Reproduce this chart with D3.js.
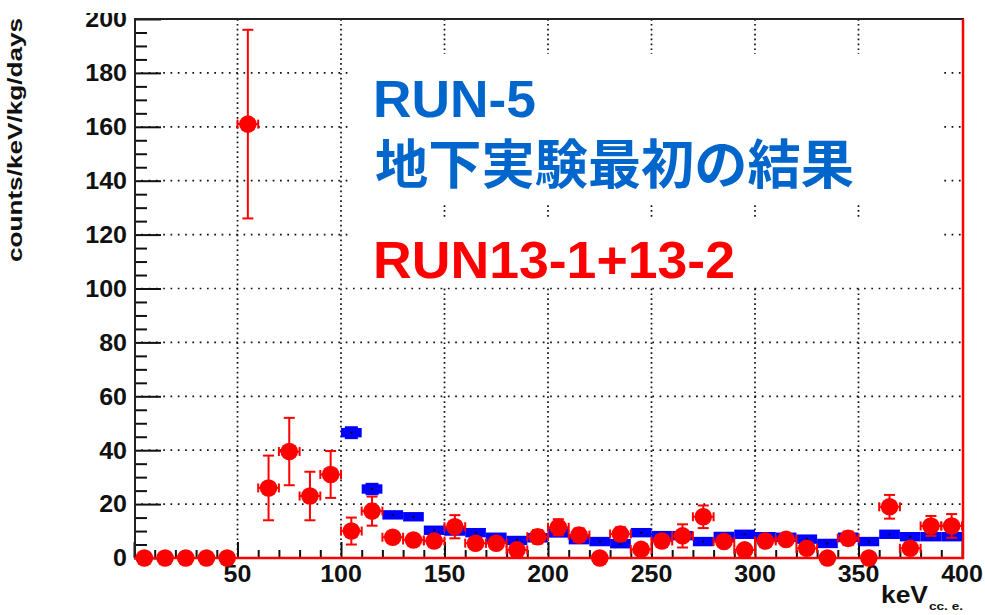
<!DOCTYPE html>
<html>
<head>
<meta charset="utf-8">
<script src="https://cdn.jsdelivr.net/npm/d3@7"></script>
<style>
body{margin:0;background:#fff;}
</style>
</head>
<body>
<div id="chart"></div>
<script>
// RUN13-1+13-2 (red points), 10 keV bins
var redCenters=[5,15,25,35,45,55,65,75,85,95,105,115,125,135,145,155,165,175,185,195,
205,215,225,235,245,255,265,275,285,295,305,315,325,335,345,355,365,375,385,395]
var redValues=[0,0,0,0,0,161,26,39.5,23,31,10,17.4,7.7,6.7,6.3,11.6,5.5,5.5,3,7.9,
11.4,8.5,0,8.9,3.2,6.3,8.2,15.3,6.1,3,6.3,6.9,3.6,0,7.3,0,19,3.6,11.9,11.9]
var redErrors=[0,0,0,0,0,35,12,12.5,9,8.7,5,5.4,2,2,2,4.3,2,2,2,2.5,
3,2.5,0,2.5,2,2,4.3,4.2,2,2,2,2,2,0,2.5,0,4.4,2,3.7,4.4]

// RUN-5 (blue bands), bin low edges
var blueEdges=[100,110,120,130,140,150,160,170,180,190,200,210,220,230,240,250,260,270,280,290,
300,310,320,330,340,350,360,370,380,390]
var blueValues=[46.5,25.6,16,15.3,10.3,10,9.4,7.7,6.5,7.5,9.3,6.8,6.1,5.3,9.4,8.3,8.3,6.1,8,8.8,
7.9,7.7,7,5.4,7.7,6.1,8.8,7.9,7.9,7.9]
var blueErrors=[2.4,2.3,1,1,1,1,1,1,1,1,1,1,1,1,1,1,1,1,1,1,1,1,1,1,1,1,1,1,1,1]
var binWidth=10

var xTicks=[50,100,150,200,250,300,350,400]
var yTicks=[0,20,40,60,80,100,120,140,160,180,200]

var width=985,height=615
var font="'Liberation Sans',Arial,Helvetica,sans-serif"

var x=d3.scaleLinear().domain([0,400]).range([134,962])
var y=d3.scaleLinear().domain([0,200]).range([558,19])

var svg=d3.select("#chart").append("svg")
	.attr("width",width)
	.attr("height",height)
	.style("display","block")

svg.append("rect").attr("width",width).attr("height",height).attr("fill","#fff")

// grid
svg.append("g").selectAll("line")
	.data(yTicks.filter(function(d){return d>0&&d<200}))
	.enter().append("line")
	.attr("x1",x(0)).attr("x2",x(400))
	.attr("y1",function(d){return y(d)}).attr("y2",function(d){return y(d)})
	.attr("stroke","#111").attr("stroke-width",1.7)
	.attr("stroke-dasharray","1.7,5.6")
svg.append("g").selectAll("line")
	.data(xTicks.filter(function(d){return d<400}))
	.enter().append("line")
	.attr("x1",function(d){return x(d)}).attr("x2",function(d){return x(d)})
	.attr("y1",y(200)).attr("y2",y(0))
	.attr("stroke","#111").attr("stroke-width",1.7)
	.attr("stroke-dasharray","1.7,3.2")

// white boxes behind the labels
svg.append("rect").attr("x",352).attr("y",54).attr("width",591).attr("height",151).attr("fill","#fff")
svg.append("rect").attr("x",352).attr("y",220).attr("width",591).attr("height",66).attr("fill","#fff")

// axes
var yAxis=d3.axisRight(y)
	.tickValues(d3.range(0,201,5))
	.tickSize(0)
	.tickFormat("")
var ga=svg.append("g").attr("transform","translate("+x(0)+",0)").call(yAxis)
ga.select(".domain").remove()
ga.selectAll(".tick line")
	.attr("x2",function(d){return d%20==0?27:13})
	.attr("stroke","#111").attr("stroke-width",2)

var xAxis=d3.axisTop(x)
	.tickValues(d3.range(0,401,10))
	.tickSize(0)
	.tickFormat("")
var gx=svg.append("g").attr("transform","translate(0,"+y(0)+")").call(xAxis)
gx.select(".domain").remove()
gx.selectAll(".tick line")
	.attr("y2",function(d){return d%50==0?-16:-8})
	.attr("stroke","#111").attr("stroke-width",2)

// frame
svg.append("rect")
	.attr("x",x(0)+1).attr("y",y(200))
	.attr("width",x(400)-x(0)).attr("height",y(0)-y(200))
	.attr("fill","none").attr("stroke","#222").attr("stroke-width",2)

// tick labels
svg.append("g").selectAll("text")
	.data(yTicks)
	.enter().append("text")
	.attr("x",127)
	.attr("y",function(d){return y(d)+8.3})
	.attr("text-anchor","end")
	.attr("font-family",font).attr("font-weight","bold").attr("font-size","23px")
	.attr("fill","#111")
	.attr("textLength",function(d){return String(d).length*13.9})
	.attr("lengthAdjust","spacingAndGlyphs")
	.text(function(d){return d})
svg.append("g").selectAll("text")
	.data(xTicks)
	.enter().append("text")
	.attr("x",function(d){return x(d)})
	.attr("y",582)
	.attr("text-anchor","middle")
	.attr("font-family",font).attr("font-weight","bold").attr("font-size","23px")
	.attr("fill","#111")
	.attr("textLength",function(d){return String(d).length*13.9})
	.attr("lengthAdjust","spacingAndGlyphs")
	.text(function(d){return d})

// axis titles
svg.append("text")
	.attr("transform","translate(22,140) rotate(-90)")
	.attr("text-anchor","middle")
	.attr("font-family",font).attr("font-weight","bold").attr("font-size","20px")
	.attr("fill","#111")
	.attr("textLength",244).attr("lengthAdjust","spacingAndGlyphs")
	.text("counts/keV/kg/days")
svg.append("text")
	.attr("x",881).attr("y",603)
	.attr("font-family",font).attr("font-weight","bold").attr("font-size","23px")
	.attr("fill","#111")
	.attr("textLength",47).attr("lengthAdjust","spacingAndGlyphs")
	.text("keV")
svg.append("text")
	.attr("x",929).attr("y",610)
	.attr("font-family",font).attr("font-weight","bold").attr("font-size","11px")
	.attr("fill","#111")
	.attr("textLength",34).attr("lengthAdjust","spacingAndGlyphs")
	.text("cc. e.")

// red histogram outline along the axis and right edge
svg.append("path")
	.attr("d","M"+x(0)+","+y(0)+"H"+(x(400)+1)+"V"+y(200))
	.attr("fill","none").attr("stroke","#ff0000").attr("stroke-width",2.5)

// blue RUN-5
var blue=svg.append("g").selectAll("g")
	.data(blueEdges)
	.enter().append("g")
blue.append("rect")
	.attr("x",function(d){return x(d)})
	.attr("y",function(d,i){return y(blueValues[i])-4.7})
	.attr("width",function(d){return x(d+binWidth)-x(d)})
	.attr("height",9.4)
	.attr("fill","#0000ff")
blue.append("rect")
	.attr("x",function(d){return x(d+binWidth/2)-6.5})
	.attr("y",function(d,i){return y(blueValues[i]+blueErrors[i])})
	.attr("width",13)
	.attr("height",function(d,i){return y(blueValues[i]-blueErrors[i])-y(blueValues[i]+blueErrors[i])})
	.attr("fill","#0000ff")
blue.append("rect")
	.attr("x",function(d){return x(d+binWidth/2)-1})
	.attr("y",function(d,i){return y(blueValues[i])-1})
	.attr("width",2).attr("height",2)
	.attr("fill","#000")

// red RUN13-1+13-2
var red=svg.append("g").selectAll("g")
	.data(redCenters)
	.enter().append("g")
red.each(function(d,i){
	var v=redValues[i],e=redErrors[i],g=d3.select(this)
	if(e<=0) return
	g.append("line")
		.attr("x1",x(d)).attr("x2",x(d))
		.attr("y1",y(v+e)).attr("y2",y(v-e))
		.attr("stroke","#ff0000").attr("stroke-width",2)
	;[v+e,v-e].forEach(function(t){
		g.append("line")
			.attr("x1",x(d)-5.5).attr("x2",x(d)+5.5)
			.attr("y1",y(t)).attr("y2",y(t))
			.attr("stroke","#ff0000").attr("stroke-width",2)
	})
	g.append("line")
		.attr("x1",x(d-binWidth/2)).attr("x2",x(d+binWidth/2))
		.attr("y1",y(v)).attr("y2",y(v))
		.attr("stroke","#ff0000").attr("stroke-width",2)
	;[d-binWidth/2,d+binWidth/2].forEach(function(t){
		g.append("line")
			.attr("x1",x(t)).attr("x2",x(t))
			.attr("y1",y(v)-4.5).attr("y2",y(v)+4.5)
			.attr("stroke","#ff0000").attr("stroke-width",2)
	})
})
red.append("circle")
	.attr("cx",function(d){return x(d)})
	.attr("cy",function(d,i){return y(redValues[i])})
	.attr("r",8.8)
	.attr("fill","#ff0000")

// labels
svg.append("text")
	.attr("x",373).attr("y",117)
	.attr("font-family",font).attr("font-weight","bold").attr("font-size","52px")
	.attr("fill","#0066cc")
	.attr("textLength",163).attr("lengthAdjust","spacingAndGlyphs")
	.text("RUN-5")
svg.append("text")
	.attr("x",375).attr("y",184)
	.attr("font-family","'Noto Sans CJK JP',sans-serif").attr("font-weight","bold").attr("font-size","53px")
	.attr("fill","#0066cc")
	.attr("textLength",479).attr("lengthAdjust","spacingAndGlyphs")
	.text("地下実験最初の結果")
svg.append("text")
	.attr("x",373).attr("y",278)
	.attr("font-family",font).attr("font-weight","bold").attr("font-size","52px")
	.attr("fill","#ff0000")
	.attr("textLength",362).attr("lengthAdjust","spacingAndGlyphs")
	.text("RUN13-1+13-2")

// top of the picture is cut off
svg.append("rect").attr("width",width).attr("height",13).attr("fill","#fff")
</script>
</body>
</html>
